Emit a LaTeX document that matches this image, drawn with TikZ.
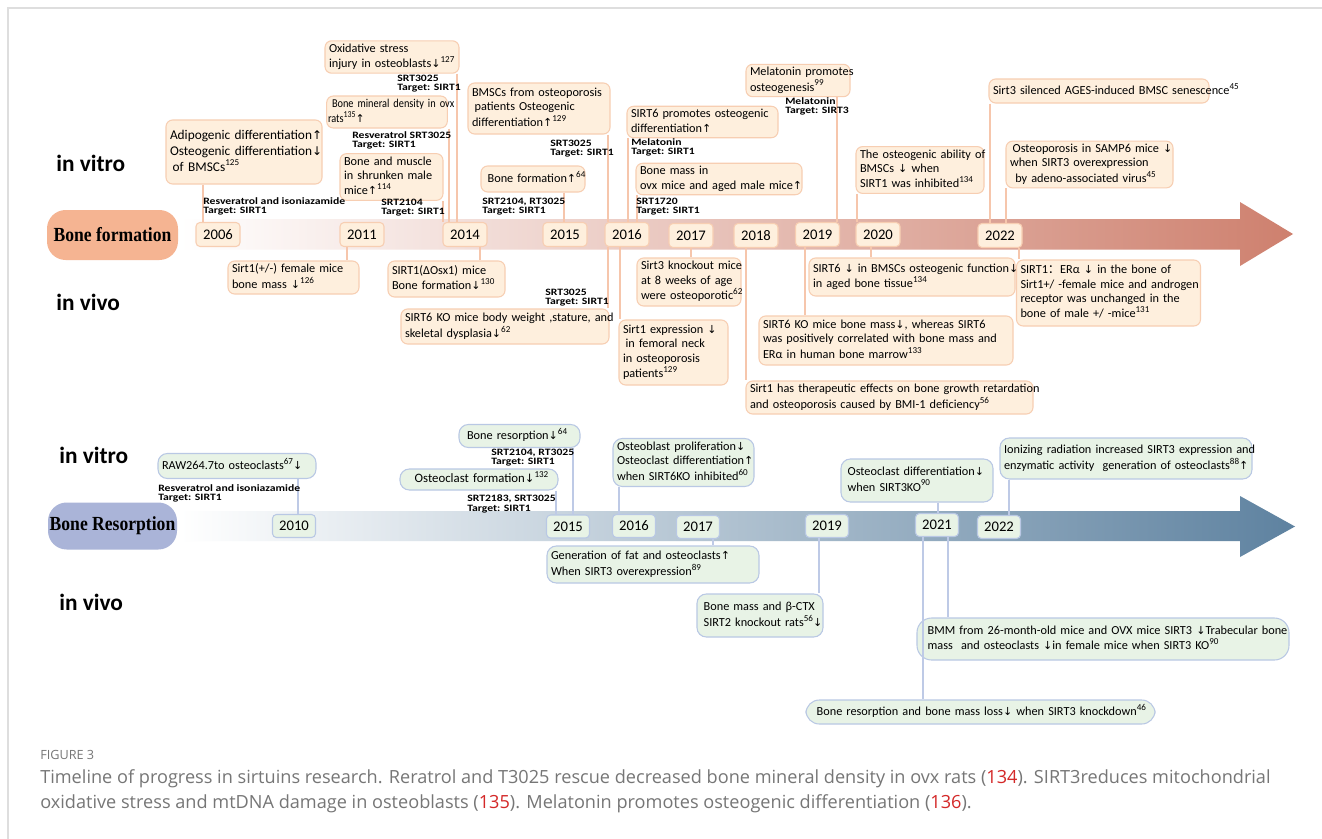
\documentclass[tikz,border=0pt]{standalone}
\usepackage{fontspec}
\setmainfont{Carlito}
\newfontfamily\arrowf[Scale=0.9]{DejaVu Sans}
\newfontfamily\labf[FakeStretch=1.2]{Carlito}
\newfontfamily\narf[FakeStretch=0.86]{Carlito}
\newfontfamily\serf[FakeStretch=0.88]{Liberation Serif}
\newfontfamily\capf{Open Sans}
\newfontfamily\cjkf{Noto Sans CJK SC}
\newcommand\UpA{{\arrowf\char"2191}}
\newcommand\DnA{{\arrowf\char"2193}}
\newcommand\supr[1]{\raisebox{0.42em}{\fontsize{6.8}{7}\selectfont #1}}
\newcommand\lns[1]{\begin{tabular}{@{}l@{}}#1\end{tabular}}
\definecolor{ffill}{RGB}{254,239,221}
\definecolor{fbord}{RGB}{247,206,178}
\definecolor{fline}{RGB}{246,198,172}
\definecolor{fpill}{RGB}{245,180,146}
\definecolor{farrow}{RGB}{206,128,110}
\definecolor{rfill}{RGB}{232,243,230}
\definecolor{rbord}{RGB}{185,200,228}
\definecolor{rline}{RGB}{190,202,230}
\definecolor{rpill}{RGB}{170,180,216}
\definecolor{rarrow}{RGB}{94,130,160}
\definecolor{capgray}{RGB}{118,118,118}
\definecolor{capred}{RGB}{212,40,40}
\definecolor{framegray}{RGB}{222,222,222}
\begin{document}
\begin{tikzpicture}[x=0.75pt,y=-0.75pt,
  msz/.style 2 args={minimum width=#1*0.75pt, minimum height=#2*0.75pt},
  sz/.code 2 args={\pgfmathsetmacro\twd{#1*0.75-6}\tikzset{text width/.expanded={\twd pt}, minimum height=#2*0.75pt}},
  fb/.style={draw=fbord, fill=ffill, line width=0.8pt, rounded corners=5pt, inner xsep=3pt, inner ysep=1pt, align=left, font=\fontsize{9.2}{10.8}\selectfont},
  rb/.style={draw=rbord, fill=rfill, line width=0.8pt, rounded corners=7pt, inner xsep=3pt, inner ysep=1pt, align=left, font=\fontsize{9.2}{10.8}\selectfont},
  narrow/.style={font=\narf\fontsize{9}{10.6}\selectfont},
  fyr/.style={draw=fbord, fill=ffill, line width=0.8pt, rounded corners=3pt, msz={44}{24}, inner sep=0pt, font=\fontsize{11}{12}\selectfont},
  ryr/.style={draw=rbord, fill=rfill, line width=0.8pt, rounded corners=3pt, msz={43}{23}, inner sep=0pt, font=\fontsize{11}{12}\selectfont},
  lab/.style={anchor=north west, inner sep=0pt, align=left, font=\labf\bfseries\fontsize{7.3}{6.8}\selectfont},
  side/.style={anchor=west, inner sep=0pt, font=\bfseries\fontsize{17.5}{20}\selectfont},
  pill/.style={rounded corners=14pt, msz={131}{50}, inner sep=0pt, font=\serf\bfseries\fontsize{15}{18}\selectfont},
  fcon/.style={draw=fline, line width=0.8pt},
  rcon/.style={draw=rline, line width=0.8pt},
  capt/.style={anchor=west, inner sep=0pt, text=capgray, font=\capf\fontsize{13.6}{16}\selectfont}
]
\useasboundingbox (0,0) rectangle (1322,839);
\fill[white] (0,0) rectangle (1322,839);
\draw[framegray, line width=0.8pt] (1322,8) -- (8,8) -- (8,839);

% ---------- bands ----------
\shade[left color=white, right color=farrow] (180,219) -- (1240,219) -- (1240,202) -- (1293,234) -- (1240,266) -- (1240,249.5) -- (180,249.5) -- cycle;
\shade[left color=white, right color=rarrow] (180,511) -- (1240,511) -- (1240,496) -- (1295,526.5) -- (1240,557) -- (1240,541) -- (180,541) -- cycle;
\node[pill, fill=fpill] (bfp) at (112.5,235) {Bone formation};
\node[pill, fill=rpill, msz={129}{47}] (brp) at (112.5,526) {Bone Resorption};

% ---------- side labels ----------
\node[side] (iv1) at (56,163) {in vitro};
\node[side] (iv2) at (56,302) {in vivo};
\node[side] (iv3) at (59,455) {in vitro};
\node[side] (iv4) at (59,602) {in vivo};

% ---------- top boxes (formation, in vitro) ----------
\node[fb, sz={156}{64}, font=\fontsize{10}{12}\selectfont] (a1) at (244,152) {\lns{Adipogenic differentiation\UpA\\Osteogenic differentiation\DnA\\\hspace*{2pt}of BMSCs\supr{125}}};
\node[fb, sz={134}{29}] (a2) at (392,57) {\lns{Oxidative stress\\injury in osteoblasts\DnA\supr{127}}};
\node[fb, sz={126}{32}, narrow, inner xsep=1pt] (a3) at (387,112) {\lns{\hspace*{3pt}Bone mineral density in ovx\\rats\supr{135}\UpA}};
\node[fb, sz={103}{39}] (a4) at (391.5,177) {\lns{Bone and muscle\\in shrunken male\\mice\UpA\supr{114}}};
\node[fb, sz={142}{51}] (a5) at (539,108.5) {\lns{BMSCs from osteoporosis\\\hspace*{2pt}patients Osteogenic\\differentiation\UpA\supr{129}}};
\node[fb, sz={104}{26}] (a6) at (533,179) {\lns{\hspace*{2pt}Bone formation\UpA\supr{64}}};
\node[fb, sz={151}{30}] (a7) at (702.5,122) {\lns{SIRT6 promotes osteogenic\\differentiation\UpA}};
\node[fb, sz={166}{27}] (a8) at (719,179) {\lns{Bone mass in\\ovx mice and aged male mice\UpA}};
\node[fb, sz={104}{27}] (a9) at (798,80.5) {\lns{Melatonin promotes\\osteogenesis\supr{99}}};
\node[fb, sz={128}{42}] (a10) at (920,170) {\lns{The osteogenic ability of\\BMSCs \DnA{} when\\SIRT1 was inhibited\supr{134}}};
\node[fb, sz={220}{24}] (a11) at (1099,91) {\lns{Sirt3 silenced AGES-induced BMSC senescence\supr{45}}};
\node[fb, sz={167}{43}] (a12) at (1089.5,164.5) {\lns{\hspace*{2pt}Osteoporosis in SAMP6 mice \DnA\\when SIRT3 overexpression\\\hspace*{4pt}by adeno-associated virus\supr{45}}};

% ---------- top boxes (formation, in vivo) ----------
\node[fb, sz={131}{33}] (b1) at (293.5,277.5) {\lns{Sirt1(+/-) female mice\\bone mass \DnA\supr{126}}};
\node[fb, sz={117}{36}] (b2) at (446.5,279) {\lns{SIRT1(ΔOsx1) mice\\Bone formation\DnA\supr{130}}};
\node[fb, sz={208}{35}] (b3) at (505,326.5) {\lns{SIRT6 KO mice body weight ,stature, and\\skeletal dysplasia\DnA\supr{62}}};
\node[fb, sz={109}{65}] (b4) at (673.5,352.5) {\lns{Sirt1 expression \DnA\\\hspace*{2pt}in femoral neck\\in osteoporosis\\patients\supr{129}}};
\node[fb, sz={104}{48}] (b5) at (689,282) {\lns{Sirt3 knockout mice\\at 8 weeks of age\\were osteoporotic\supr{62}}};
\node[fb, sz={206}{38}] (b6) at (912,277) {\lns{SIRT6 \DnA{} in BMSCs osteogenic function\DnA\\in aged bone tissue\supr{134}}};
\node[fb, sz={184}{66}] (b7) at (1108.5,293) {\lns{SIRT1{\cjkf ：}ERα \DnA{} in the bone of\\Sirt1+/ -female mice and androgen\\receptor was unchanged in the\\bone of male +/ -mice\supr{131}}};
\node[fb, sz={254}{49}] (b8) at (886,340.5) {\lns{SIRT6 KO mice bone mass\DnA, whereas SIRT6\\was positively correlated with bone mass and\\ERα in human bone marrow\supr{133}}};
\node[fb, sz={287}{33}] (b9) at (889.5,397.5) {\lns{Sirt1 has therapeutic effects on bone growth retardation\\and osteoporosis caused by BMI-1 deficiency\supr{56}}};

% ---------- bottom boxes (resorption) ----------
\node[rb, sz={158}{25}] (e1) at (237,466) {\lns{RAW264.7to osteoclasts\supr{67}\DnA}};
\node[rb, sz={121}{23}] (e2) at (519.5,436) {\lns{\hspace*{3pt}Bone resorption\DnA\supr{64}}};
\node[rb, sz={158}{21}, font=\fontsize{9.6}{11}\selectfont] (e3) at (479,479.5) {\lns{\hspace*{8pt}Osteoclast formation\DnA\supr{132}}};
\node[rb, sz={141}{48}] (e4) at (683.5,462.5) {\lns{Osteoblast proliferation\DnA\\Osteoclast differentiation\UpA\\when SIRT6KO inhibited\supr{60}}};
\node[rb, sz={152}{43}] (e5) at (917,480.5) {\lns{\hspace*{2pt}Osteoclast differentiation\DnA\\\hspace*{2pt}when SIRT3KO\supr{90}}};
\node[rb, sz={252}{41}] (e6) at (1126,458.5) {\lns{Ionizing radiation increased SIRT3 expression and\\enzymatic activity\ \ generation of osteoclasts\supr{88}\UpA}};
\node[rb, sz={212}{37}] (f1) at (653,564.5) {\lns{Generation of fat and osteoclasts\UpA\\When SIRT3 overexpression\supr{89}}};
\node[rb, sz={126}{43}] (f2) at (760,615.5) {\lns{\hspace*{2pt}Bone mass and β-CTX\\\hspace*{2pt}SIRT2 knockout rats\supr{56}\DnA}};
\node[rb, sz={372}{42}, rounded corners=11pt] (f3) at (1103,639) {\lns{\hspace*{5pt}BMM from 26-month-old mice and OVX mice SIRT3 \DnA Trabecular bone\\\hspace*{5pt}mass\ \ and osteoclasts \DnA in female mice when SIRT3 KO\supr{90}}};
\node[rb, sz={349}{24}, rounded corners=10pt] (f4) at (980.5,712) {\lns{\hspace*{5pt}Bone resorption and bone mass loss\DnA{} when SIRT3 knockdown\supr{46}}};

% ---------- year boxes ----------
\node[fyr] (y06) at (218,234.5) {2006};
\node[fyr] (y11) at (362,234.5) {2011};
\node[fyr] (y14) at (465,234.5) {2014};
\node[fyr] (y15) at (565,234.5) {2015};
\node[fyr] (y16) at (627,234.5) {2016};
\node[fyr] (y17) at (691,235.5) {2017};
\node[fyr] (y18) at (756,235.5) {2018};
\node[fyr] (y19) at (817.5,234.5) {2019};
\node[fyr] (y20) at (878,234.5) {2020};
\node[fyr] (y22) at (1000,235.5) {2022};

\node[ryr] (r10) at (294,526) {2010};
\node[ryr] (r15) at (568,526.5) {2015};
\node[ryr] (r16) at (634,526) {2016};
\node[ryr] (r17) at (698,527) {2017};
\node[ryr] (r19) at (827,526) {2019};
\node[ryr] (r21) at (937,525) {2021};
\node[ryr] (r22) at (999,527) {2022};

% ---------- connectors (top) ----------
\draw[fcon] (a1.south -| 203,0) -- (y06.north -| 203,0);
\draw[fcon] (a2.south -| 457,0) -- (y14.north -| 457,0);
\draw[fcon] (a3.south -| 449,0) -- (y14.north -| 449,0);
\draw[fcon] (a4.south -| 443,0) -- (y14.north -| 443,0);
\draw[fcon] (a5.south -| 608,0) -- (y16.north -| 608,0);
\draw[fcon] (a6.south -| 564,0) -- (y15.north -| 564,0);
\draw[fcon] (a7.south -| 628,0) -- (y16.north -| 628,0);
\draw[fcon] (a8.south -| 637,0) -- (y16.north -| 637,0);
\draw[fcon] (a9.south -| 837,0) -- (y19.north -| 837,0);
\draw[fcon] (a10.south -| 857,0) -- (y20.north -| 857,0);
\draw[fcon] (a11.south -| 990,0) -- (y22.north -| 990,0);
\draw[fcon] (a12.south -| 1006,0) -- (y22.north -| 1006,0);
\draw[fcon] (y11.south -| 347,0) -- (b1.north -| 347,0);
\draw[fcon] (y14.south -| 480,0) -- (b2.north -| 480,0);
\draw[fcon] (y16.south -| 608,0) -- (b3.north -| 608,0);
\draw[fcon] (y16.south -| 620,0) -- (b4.north -| 620,0);
\draw[fcon] (y17.south -| 691,0) -- (b5.north -| 691,0);
\draw[fcon] (y18.south -| 746,0) -- (b9.north -| 746,0);
\draw[fcon] (y19.south -| 805,0) -- (b8.north -| 805,0);
\draw[fcon] (y20.south -| 871,0) -- (b6.north -| 871,0);
\draw[fcon] (y22.south -| 1019,0) -- (b7.north -| 1019,0);

% ---------- connectors (bottom) ----------
\draw[rcon] (e1.south -| 298,0) -- (r10.north -| 298,0);
\draw[rcon] (e2.south -| 573,0) -- (r15.north -| 573,0);
\draw[rcon] (e3.south -| 556,0) -- (r15.north -| 556,0);
\draw[rcon] (e4.south -| 619,0) -- (r16.north -| 619,0);
\draw[rcon] (e5.south -| 938,0) -- (r21.north -| 938,0);
\draw[rcon] (e6.south -| 1009,0) -- (r22.north -| 1009,0);
\draw[rcon] (r17.south -| 713,0) -- (f1.north -| 713,0);
\draw[rcon] (r19.south -| 819,0) -- (f2.north -| 819,0);
\draw[rcon] (r21.south -| 948,0) -- (f3.north -| 948,0);
\draw[rcon] (r21.south -| 923,0) -- (f4.north -| 923,0);

% ---------- drug labels ----------
\node[lab] (l1) at (203,197) {Resveratrol and isoniazamide\\Target: SIRT1};
\node[lab] (l2) at (397,75) {SRT3025\\Target: SIRT1};
\node[lab] (l3) at (352,131) {Resveratrol SRT3025\\Target: SIRT1};
\node[lab] (l4) at (381,199) {SRT2104\\Target: SIRT1};
\node[lab] (l5) at (550,140) {SRT3025\\Target: SIRT1};
\node[lab] (l6) at (482,198) {SRT2104, RT3025\\Target: SIRT1};
\node[lab] (l7) at (631,138) {Melatonin\\Target: SIRT1};
\node[lab] (l8) at (636,198) {SRT1720\\Target: SIRT1};
\node[lab] (l9) at (785,97) {Melatonin\\Target: SIRT3};
\node[lab] (l10) at (545,289) {SRT3025\\Target: SIRT1};
\node[lab] (l11) at (158,484) {Resveratrol and isoniazamide\\Target: SIRT1};
\node[lab] (l12) at (491,449) {SRT2104, RT3025\\Target: SIRT1};
\node[lab] (l13) at (467,495) {SRT2183, SRT3025\\Target: SIRT1};

% ---------- caption ----------
\node[capt, font=\capf\fontsize{9.5}{11}\selectfont] (fig) at (40,755) {FIGURE 3};
\node[capt] (cap1) at (40,779) {Timeline of progress in sirtuins research. Reratrol and T3025 rescue decreased bone mineral density in ovx rats (\textcolor{capred}{134}). SIRT3reduces mitochondrial};
\node[capt] (cap2) at (40,804) {oxidative stress and mtDNA damage in osteoblasts (\textcolor{capred}{135}). Melatonin promotes osteogenic differentiation (\textcolor{capred}{136}).};
\end{tikzpicture}
\end{document}
